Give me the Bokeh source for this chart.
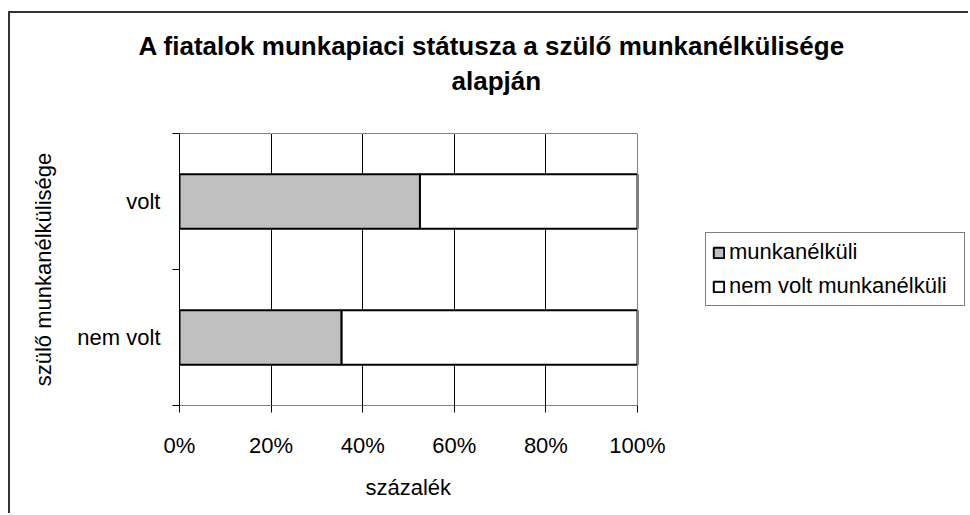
from bokeh.plotting import figure
from bokeh.models import (ColumnDataSource, Range1d, FixedTicker, NumeralTickFormatter,
                          Title, Legend, LegendItem, LinearAxis, Span)
from bokeh.embed import file_html
from bokeh.resources import INLINE

# ---- data ----
categories = ["volt", "nem volt"]
series_names = ["munkanélküli", "nem volt munkanélküli"]
munkanelkuli = [52.5, 35.4]            # % per category
nem_volt_munkanelkuli = [47.5, 64.6]   # % per category
x_ticks = [0, 20, 40, 60, 80, 100]
title_lines = ["A fiatalok munkapiaci státusza a szülő munkanélkülisége", "alapján"]
x_title = "százalék"
y_title = "szülő munkanélkülisége"

FONT = "Liberation Sans"

# ---- layout constants (pixels) ----
W, H = 960, 502
LEFT, TOP, BOTTOM = 169, 120, 108
PLOT_W = 458                      # width of the 0-100 % area
FRAME_W = W - LEFT                # frame runs to the right edge (room for legend)

n = len(categories)
ypos = [n - i - 0.5 for i in range(n)]
x_lo, x_hi = x_ticks[0] / 100, x_ticks[-1] / 100
a_right = [v / 100 for v in munkanelkuli]
b_right = [(a + b) / 100 for a, b in zip(munkanelkuli, nem_volt_munkanelkuli)]
src = ColumnDataSource(dict(y=ypos, cat=categories,
                            a_left=[0.0] * n, a_right=a_right,
                            b_left=a_right, b_right=b_right))

p = figure(width=W, height=H,
           x_range=Range1d(x_lo, x_lo + (x_hi - x_lo) * FRAME_W / PLOT_W),
           y_range=Range1d(0, n),
           output_backend="svg", toolbar_location=None,
           min_border_left=LEFT, min_border_right=0,
           min_border_top=TOP, min_border_bottom=BOTTOM)
p.styles = {"margin-left": "8px", "margin-top": "11px",
            "border-left": "2px solid #333", "border-top": "2px solid #333"}
p.background_fill_color = "white"
p.border_fill_color = "white"
p.outline_line_color = None

# right border of the plot area
p.add_layout(Span(location=x_hi, dimension="height", line_color="#808080", line_width=1))

r1 = p.hbar(y="y", left="a_left", right="a_right", height=0.4, source=src,
            fill_color="#C0C0C0", line_color="black", line_width=2)
r2 = p.hbar(y="y", left="b_left", right="b_right", height=0.4, source=src,
            fill_color="white", line_color="black", line_width=2)

# x axis
xa = p.xaxis[0]
xa.bounds = (x_lo, x_hi)
xa.ticker = FixedTicker(ticks=[t / 100 for t in x_ticks])
xa.formatter = NumeralTickFormatter(format="0%")
xa.axis_line_color = "#808080"
xa.major_tick_line_color = "black"
xa.major_tick_out = 7
xa.major_tick_in = 0
xa.minor_tick_line_color = None
xa.major_label_standoff = 20
xa.major_label_text_font = FONT
xa.major_label_text_font_size = "22px"
xa.major_label_text_color = "black"

# top border of the plot area; its (white, unlabelled) ticks leave room under the title
top_axis = LinearAxis(ticker=FixedTicker(ticks=[t / 100 for t in x_ticks]),
                      bounds=(x_lo, x_hi),
                      axis_line_color="#808080", major_tick_out=36, major_tick_in=0,
                      major_tick_line_color="white", minor_tick_line_color=None,
                      major_label_standoff=0, major_label_text_color=None,
                      major_label_text_font_size="0px")
p.add_layout(top_axis, "above")

# y axis: labels at category centres, ticks at category boundaries
ya = p.yaxis[0]
ya.bounds = (0, n)
ya.ticker = FixedTicker(ticks=ypos, minor_ticks=[float(i) for i in range(n + 1)])
ya.major_label_overrides = {y: c for y, c in zip(ypos, categories)}
ya.axis_line_color = "black"
ya.major_tick_line_color = None
ya.major_tick_out = 7
ya.major_tick_in = 0
ya.minor_tick_line_color = "black"
ya.minor_tick_out = 7
ya.minor_tick_in = 0
ya.major_label_standoff = 12
ya.major_label_text_font = FONT
ya.major_label_text_font_size = "22px"
ya.major_label_text_color = "black"
ya.axis_label = y_title
ya.axis_label_text_font = FONT
ya.axis_label_text_font_size = "22px"
ya.axis_label_text_font_style = "normal"
ya.axis_label_text_color = "black"
ya.axis_label_standoff = 18

p.xgrid.ticker = FixedTicker(ticks=[t / 100 for t in x_ticks[1:-1]])
p.xgrid.grid_line_color = "black"
p.xgrid.grid_line_width = 1
p.ygrid.grid_line_color = None

# title (two lines); the one added first sits closest to the plot
title_offsets = [-41, 272]
for line, off in reversed(list(zip(title_lines, title_offsets))):
    p.add_layout(Title(text=line, align="left", offset=off, standoff=3,
                       text_font=FONT, text_font_size="26px", text_font_style="bold",
                       text_color="black"), "above")

# x-axis title, centred under the 0-100 % span
p.add_layout(Title(text=x_title, align="left", offset=186, standoff=28,
                   vertical_align="top",
                   text_font=FONT, text_font_size="22px", text_font_style="normal",
                   text_color="black"), "below")

legend = Legend(items=[LegendItem(label=series_names[0], renderers=[r1]),
                       LegendItem(label=series_names[1], renderers=[r2])],
                location=(526, 99), orientation="vertical",
                border_line_color="black", border_line_width=1,
                background_fill_color="white", background_fill_alpha=1.0,
                padding=6, spacing=8, margin=0,
                glyph_width=13, glyph_height=13, label_standoff=4,
                label_width=229, label_height=25,
                label_text_font=FONT, label_text_font_size="22px",
                label_text_color="black")
p.add_layout(legend)

open("out.html", "w").write(file_html(p, INLINE))
